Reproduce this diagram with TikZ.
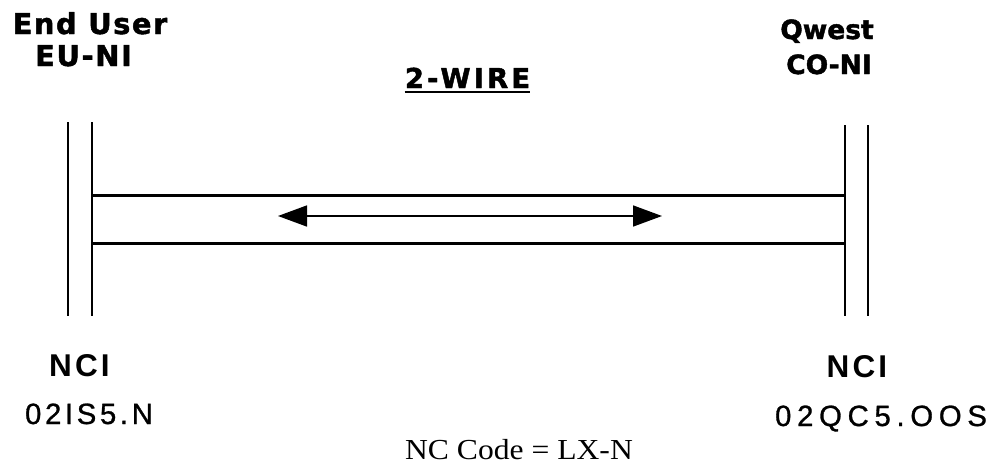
\documentclass[tikz,border=0pt]{standalone}
\usepackage{fontspec}
\setmainfont{Liberation Serif}
\newfontfamily\heavyfont{DejaVu Sans}
\newfontfamily\arialfont{Liberation Sans}
\usetikzlibrary{positioning,arrows.meta}

\begin{document}
\begin{tikzpicture}[x=1pt, y=-1pt,
  lhead/.style={font=\heavyfont\bfseries\fontsize{28.8}{30}\selectfont\addfontfeature{FakeBold=1.6},
                inner sep=0pt, anchor=base},
  rhead/.style={font=\heavyfont\bfseries\fontsize{26.5}{28}\selectfont\addfontfeature{FakeBold=1.6},
                inner sep=0pt, anchor=base},
  nci/.style={font=\arialfont\bfseries\fontsize{31.5}{33}\selectfont\addfontfeature{LetterSpace=10},
              inner sep=0pt, anchor=base},
  code/.style={font=\arialfont\fontsize{29.3}{31}\selectfont\addfontfeature{FakeBold=1},
               inner sep=0pt, anchor=base},
  bar/.style={line width=#1},
  wire/.style={line width=3pt},
  arr/.style={{Triangle[length=29pt,width=21pt]}-{Triangle[length=29pt,width=21pt]},
              line width=1.6pt}]
\useasboundingbox (0,0) rectangle (990,464);
% headings
\node[lhead] (enduser) at (90,34) {\addfontfeature{LetterSpace=5.5}End User};
\node[lhead] (euni) at ([xshift=-6.5pt,yshift=-32pt]enduser.base) {\addfontfeature{LetterSpace=6}EU-NI};
\node[rhead] (qwest) at (827,39) {Qwest};
\node[rhead] (coni) at ([xshift=2pt,yshift=-35pt]qwest.base) {CO-NI};
\node[lhead] (twowire) at (467.5,88) {\fontsize{27.4}{29}\selectfont\addfontfeature{LetterSpace=11.5}2-WIRE};
\draw[line width=2pt] ([yshift=-4pt]twowire.base west) -- ([yshift=-4pt]twowire.base east);
% interface bars
\coordinate (lo) at (68,122);
\coordinate (li) at (92,122);
\coordinate (ri) at (845,125);
\coordinate (ro) at (868,125);
\draw[bar=2pt] (lo) -- ++(0,194);
\draw[bar=1.3pt] (li) -- ++(0,194);
\draw[bar=2.5pt] (ri) -- ++(0,191);
\draw[bar=1.7pt] (ro) -- ++(0,191);
% the two wires
\draw[wire] (92,195) -- (845,195);
\draw[wire] (92,243) -- (845,243);
\coordinate (wl) at (278,216);
\coordinate (wr) at (662,216);
\draw[arr] (wl) -- (wr);
% codes
\node[nci] (ncil) at (79.5,376) {NCI};
\node[nci] (ncir) at (857,377) {NCI};
\node[code] (codel) at (89,424) {\addfontfeature{LetterSpace=12.5}02IS5.N};
\node[code] (coder) at (881,426) {\addfontfeature{LetterSpace=19.5}02QC5.OOS};
\node[inner sep=0pt, anchor=base, font=\fontsize{29}{31}\selectfont] (nccode) at (519,459)
  {\scalebox{1.09}[1]{NC Code = LX-N}};
\end{tikzpicture}
\end{document}
